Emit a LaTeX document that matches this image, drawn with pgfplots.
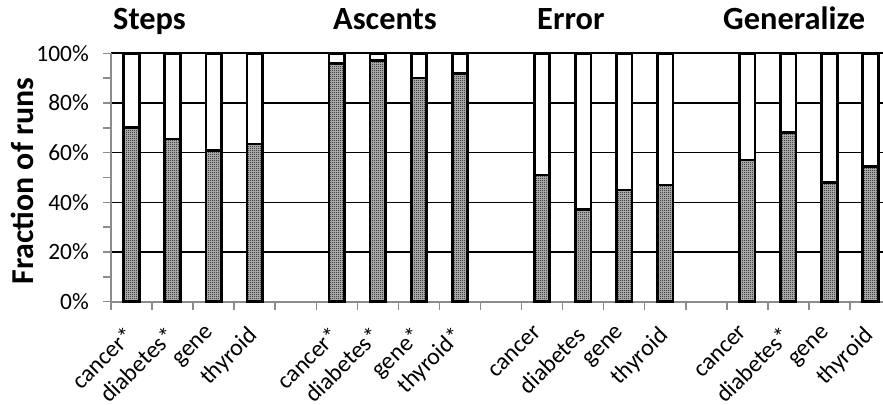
\documentclass[border=0pt]{standalone}
\usepackage{fontspec}
\setmainfont{Carlito}
\usepackage{pgfplots}
\pgfplotsset{compat=1.18}
\usetikzlibrary{patterns}

% fine dotted fill for the lower part of each bar
\pgfdeclarepatternformonly{finecheck}{\pgfqpoint{0bp}{0bp}}{\pgfqpoint{2bp}{2bp}}{\pgfqpoint{2bp}{2bp}}{%
  \pgfpathrectangle{\pgfqpoint{0bp}{0bp}}{\pgfqpoint{1bp}{1bp}}%
  \pgfpathrectangle{\pgfqpoint{1bp}{1bp}}{\pgfqpoint{1bp}{1bp}}%
  \pgfusepath{fill}}

\begin{document}
\begin{tikzpicture}[x=1bp,y=1bp]
\begin{axis}[
  at={(111bp,102.3bp)}, anchor=south west,
  scale only axis, width=780bp, height=248.4bp,
  xmin=-0.5, xmax=18.5, ymin=0, ymax=100,
  ybar stacked, bar width=15.5bp,
  axis x line*=bottom, axis y line*=left,
  axis line style={draw=gray!90, line width=2bp},
  xtick={0,1,2,3,5,6,7,8,10,11,12,13,15,16,17,18},
  xticklabels={cancer*,diabetes*,gene,thyroid,cancer*,diabetes*,gene*,thyroid*,cancer,diabetes,gene,thyroid,cancer,diabetes*,gene,thyroid},
  minor xtick={-0.5,0.5,...,18.5},
  ytick={20,40,60,80,100},
  yticklabels={20\%,40\%,60\%,80\%,100\%},
  extra y ticks={0}, extra y tick labels={0\%},
  extra y tick style={grid=none},
  minor ytick={10,30,50,70,90},
  ymajorgrids,
  major grid style={black, line width=1.6bp},
  tick align=outside,
  major tick length=8bp, minor tick length=8bp,
  tick style={gray!90, line width=1.5bp},
  major x tick style={draw=none},
  yticklabel style={font=\fontsize{23.5}{27}\selectfont, inner sep=0pt, xshift=-14bp},
  xticklabel style={font=\fontsize{24}{28}\selectfont, xshift=-8bp, rotate=45, anchor=north east, inner sep=0pt},
  xticklabel shift=15bp,
  clip=false,
]
% share of runs in the lower (shaded) part
\addplot[fill=black!25, postaction={pattern=finecheck}, draw=black, line width=2.7bp] coordinates {
  (0,70) (1,65.5) (2,61) (3,63.5)
  (5,96) (6,97) (7,90) (8,92)
  (10,51) (11,37) (12,45) (13,47)
  (15,57) (16,68) (17,48) (18,54.5)
};
% remainder up to 100%
\addplot[fill=white, draw=black, line width=2.7bp] coordinates {
  (0,30) (1,34.5) (2,39) (3,36.5)
  (5,4) (6,3) (7,10) (8,8)
  (10,49) (11,63) (12,55) (13,53)
  (15,43) (16,32) (17,52) (18,45.5)
};
\end{axis}
\begin{scope}[every node/.style={font=\bfseries\fontsize{32.5}{36}\selectfont, anchor=base west, inner sep=0pt}]
  \node at (113,375) {Steps};
  \node at (333,375) {Ascents};
  \node at (537,375) {Error};
  \node at (723,375) {Generalize};
\end{scope}
\node[rotate=90, anchor=base, inner sep=0pt, font=\bfseries\fontsize{32}{36}\selectfont] at (33,223) {Fraction of runs};
\pgfresetboundingbox
\path[use as bounding box] (0,0) rectangle (883,404);
\end{tikzpicture}
\end{document}
